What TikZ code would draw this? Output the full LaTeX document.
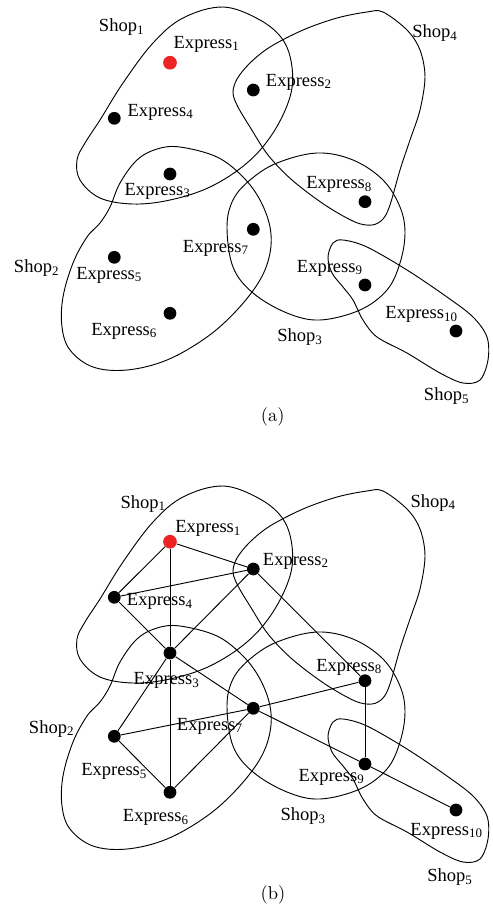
\documentclass[tikz,border=0pt]{standalone}
\usepackage{fontspec}
\newfontfamily\lsf{Liberation Serif}
\definecolor{expred}{RGB}{237,35,36}
\newcommand\drawshops{%
  \draw[shopline] plot[smooth cycle, tension=0.6] coordinates {(223,7) (260,20) (283,40) (292,67) (290,97) (273,133) (247,163) (210,187) (170,200) (133,204) (100,198) (80,180) (77,160) (85,143) (100,120) (123,83) (153,43) (183,18)};
  \draw[shopline] plot[smooth cycle, tension=0.6] coordinates {(180,147) (217,157) (243,177) (260,200) (270,227) (270,253) (260,280) (237,310) (207,337) (167,360) (127,370) (93,367) (70,350) (62,327) (63,297) (73,263) (87,237) (100,223) (110,207) (120,183) (137,160) (157,149)};
  \draw[shopline] plot[smooth cycle, tension=0.6] coordinates {(317,153) (353,160) (383,180) (400,207) (405,233) (400,263) (387,290) (360,310) (320,320) (287,313) (253,293) (233,267) (227,227) (233,200) (250,180) (277,163)};
  \draw[shopline] plot[smooth cycle, tension=0.55] coordinates {(383,12) (407,30) (420,50) (425,77) (420,110) (410,140) (400,170) (390,205) (383,219) (372,225) (355,222) (325,205) (292,180) (268,155) (250,127) (238,107) (233,93) (237,79) (250,63) (270,47) (303,30) (337,18) (367,12)};
  \draw[shopline] plot[smooth cycle, tension=0.55] coordinates {(343,240) (367,247) (407,270) (447,297) (473,317) (487,337) (488,360) (480,380) (463,383) (440,373) (407,353) (377,337) (363,320) (353,300) (343,287) (332,273) (328,257) (333,243)};
}
\begin{document}
\begin{tikzpicture}[x=0.54pt,y=-0.54pt,
  shopline/.style={line width=0.5pt},
  edge/.style={line width=0.5pt},
  dot/.style={circle, fill=black, inner sep=0pt, minimum size=6.9pt},
  reddot/.style={circle, fill=expred, inner sep=0pt, minimum size=7.4pt},
  lbl/.style={font=\lsf\fontsize{10}{12}\selectfont, inner sep=0pt},
  captext/.style={font=\fontsize{10}{12}\selectfont, inner sep=0pt}]
\useasboundingbox (0,0) rectangle (493,906);
% ---------------- (a) ----------------
\begin{scope}
  \drawshops
  \node[reddot] (a1) at (170,62.7) {};
  \node[dot] (a2) at (253.3,90) {};
  \node[dot] (a3) at (170,174) {};
  \node[dot] (a4) at (114.3,118.3) {};
  \node[dot] (a5) at (114.3,257.3) {};
  \node[dot] (a6) at (170,313.3) {};
  \node[dot] (a7) at (253.3,229.3) {};
  \node[dot] (a8) at (365,201.7) {};
  \node[dot] (a9) at (365,285) {};
  \node[dot] (a10) at (456,331) {};
  \node[lbl] (as1) at (121.7,27) {Shop\textsubscript{1}};
  \node[lbl] (as2) at (36.7,268) {Shop\textsubscript{2}};
  \node[lbl] (as3) at (300,337) {Shop\textsubscript{3}};
  \node[lbl] (as4) at (435,33) {Shop\textsubscript{4}};
  \node[lbl] (as5) at (446.7,396) {Shop\textsubscript{5}};
  \node[lbl] (al1) at (206.7,44) {Express\textsubscript{1}};
  \node[lbl] (al2) at (299,82) {Express\textsubscript{2}};
  \node[lbl] (al3) at (157.7,191) {Express\textsubscript{3}};
  \node[lbl] (al4) at (160.7,112) {Express\textsubscript{4}};
  \node[lbl] (al5) at (109.3,275) {Express\textsubscript{5}};
  \node[lbl] (al6) at (124.3,331) {Express\textsubscript{6}};
  \node[lbl] (al7) at (216,248) {Express\textsubscript{7}};
  \node[lbl] (al8) at (339.3,184.5) {Express\textsubscript{8}};
  \node[lbl] (al9) at (330,268) {Express\textsubscript{9}};
  \node[lbl] (al10) at (421.7,314.5) {Express\textsubscript{10}};
  \node[captext] (capa) at (272.7,416.7) {(a)};
\end{scope}
% ---------------- (b) ----------------
\begin{scope}[shift={(0,479)}]
  \drawshops
  \node[reddot] (b1) at (170,62.7) {};
  \node[dot] (b2) at (253.3,90) {};
  \node[dot] (b3) at (170,174) {};
  \node[dot] (b4) at (114.3,118.3) {};
  \node[dot] (b5) at (114.3,257.3) {};
  \node[dot] (b6) at (170,313.3) {};
  \node[dot] (b7) at (253.3,229.3) {};
  \node[dot] (b8) at (365,201.7) {};
  \node[dot] (b9) at (365,285) {};
  \node[dot] (b10) at (456,331) {};
  \foreach \u/\v in {1/2,1/4,1/3,4/2,4/3,2/3,2/8,3/5,3/6,3/7,5/7,5/6,6/7,7/8,7/9,8/9,9/10}
    \draw[edge] (b\u) -- (b\v);
  \node[lbl] (bs1) at (143.3,24.7) {Shop\textsubscript{1}};
  \node[lbl] (bs2) at (51.7,249.7) {Shop\textsubscript{2}};
  \node[lbl] (bs3) at (303.3,337) {Shop\textsubscript{3}};
  \node[lbl] (bs4) at (433.3,23.7) {Shop\textsubscript{4}};
  \node[lbl] (bs5) at (450,398) {Shop\textsubscript{5}};
  \node[lbl] (bl1) at (208.3,49.3) {Express\textsubscript{1}};
  \node[lbl] (bl2) at (296,82) {Express\textsubscript{2}};
  \node[lbl] (bl3) at (166.7,201.3) {Express\textsubscript{3}};
  \node[lbl] (bl4) at (160,122.7) {Express\textsubscript{4}};
  \node[lbl] (bl5) at (114.3,292.7) {Express\textsubscript{5}};
  \node[lbl] (bl6) at (156,338.7) {Express\textsubscript{6}};
  \node[lbl] (bl7) at (210,247) {Express\textsubscript{7}};
  \node[lbl] (bl8) at (349.3,188) {Express\textsubscript{8}};
  \node[lbl] (bl9) at (331.7,298) {Express\textsubscript{9}};
  \node[lbl] (bl10) at (446.7,352) {Express\textsubscript{10}};
  \node[captext] (capb) at (273,416) {(b)};
\end{scope}
\end{tikzpicture}
\end{document}
